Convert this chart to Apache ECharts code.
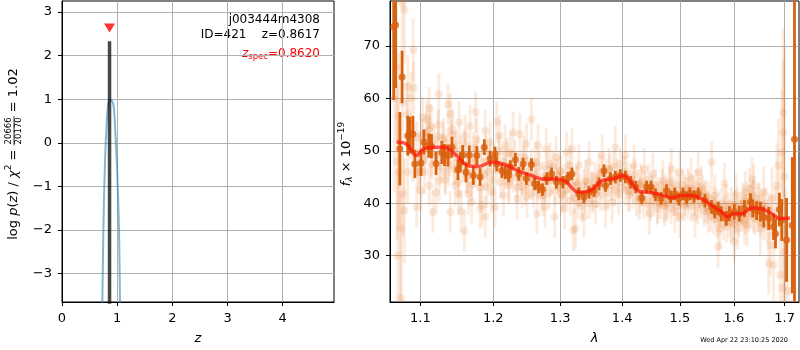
<!DOCTYPE html>
<html>
<head>
<meta charset="utf-8">
<script src="https://cdn.jsdelivr.net/npm/echarts@6/dist/echarts.min.js"></script>
<style>
html, body { margin: 0; padding: 0; background: #fff; }
#chart { width: 800px; height: 350px; }
</style>
</head>
<body>
<div id="chart"></div>
<script>
// ---------- redshift panel ----------
const pzZ   = [0.72, 0.731, 0.745, 0.761, 0.778, 0.792, 0.805, 0.816, 0.83, 0.845, 0.864, 0.89, 0.912, 0.93, 0.943, 0.955, 0.967, 0.98, 0.997, 1.012, 1.027, 1.04, 1.051, 1.06];
const pzLog = [-4.3, -3.65, -2.4, -1.29, -0.5, 0.0, 0.32, 0.6, 0.82, 0.93, 0.98, 0.97, 0.945, 0.87, 0.757, 0.52, 0.227, -0.1, -0.53, -1.08, -1.67, -2.5, -3.65, -4.3];
const zBest = 0.8617;
const zBestTop = 2.33;
const zSpec = 0.8620;
const zSpecMarkY = 2.63;
const zTicks = [0, 1, 2, 3, 4];
const logpTicks = [-3, -2, -1, 0, 1, 2, 3];

const objName = 'j003444m4308';
const objLine = 'ID=421    z=0.8617';
const zSpecText = '=0.8620';
const chiNum = '20666', chiDen = '20170', chiRatio = '1.02';
const stamp = 'Wed Apr 22 23:10:25 2020';

// ---------- spectrum panel ----------
const lamTicks  = [1.1, 1.2, 1.3, 1.4, 1.5, 1.6, 1.7];
const fluxTicks = [30, 40, 50, 60, 70];

// model spectrum
const modelLam  = [1.069,1.0817,1.0947,1.1034,1.119,1.1325,1.146,1.1644,1.1784,1.1974,1.2166,1.2362,1.2561,1.2712,1.2916,1.3072,1.3229,1.3361,1.3522,1.3659,1.3849,1.4016,1.4128,1.4297,1.4470,1.4703,1.4851,1.5029,1.5210,1.5392,1.5578,1.5767,1.5880,1.5986,1.6148,1.6342,1.6538,1.6737,1.6905,1.7107];
const modelFlux = [51.7,51.3,49.1,50.3,50.7,50.7,49.4,47.2,47.0,47.8,47.4,46.2,45.3,44.65,44.65,44.3,42.4,42.1,42.75,44.3,44.65,45.3,44.3,42.25,42.1,41.5,41.05,41.5,41.5,40.9,39.6,38.35,37.4,38.0,38.0,39.1,38.97,38.0,37.1,37.2];

// binned spectrum: [lambda, flux, error]
const binned = [
[1.0654,73.7,14],[1.0678,74.0,12],[1.0733,50.4,7],[1.0761,64.1,5],[1.0834,52.9,3.8],[1.0864,53.0,3.5],[1.0902,53.2,3.5],[1.0927,47.5,2.7],
[1.1008,47.7,2.5],[1.1045,51.7,2.4],[1.1110,51.0,2.3],[1.1146,50.9,2.3],[1.1207,47.6,2.2],[1.1284,49.7,2.2],[1.1321,49.2,2.1],[1.1367,49.1,2.1],
[1.1422,50.7,2.0],[1.1504,46.4,2.0],[1.1537,47.8,1.9],[1.1569,49.2,1.9],[1.1615,45.9,1.9],[1.1661,49.2,1.8],[1.1717,45.3,1.8],[1.1766,49.1,1.8],
[1.1813,45.0,1.7],[1.1872,50.7,1.5],[1.1955,48.5,1.5],[1.2025,49.4,1.4],[1.2050,47.5,1.4],[1.2124,46.2,1.4],[1.2173,45.9,1.3],[1.2223,45.3,1.3],
[1.2248,46.9,1.3],[1.2322,48.3,1.3],[1.2371,45.6,1.3],[1.2436,47.5,1.2],[1.2485,44.7,1.2],[1.2560,47.4,1.2],[1.2608,43.7,1.2],[1.2668,43.1,1.2],
[1.2727,42.6,1.2],[1.2792,44.7,1.2],[1.2866,45.6,1.2],[1.2941,44.0,1.2],[1.3042,44.0,1.2],[1.3120,44.8,1.2],[1.3183,45.6,1.2],[1.3292,41.8,1.2],
[1.3373,41.2,1.2],[1.3454,42.1,1.2],[1.3536,42.4,1.2],[1.3617,43.7,1.2],[1.3698,46.2,1.2],[1.3724,43.4,1.2],[1.3805,44.7,1.2],[1.3886,45.0,1.2],
[1.3968,45.3,1.2],[1.4053,45.0,1.2],[1.4141,44.0,1.2],[1.4228,43.1,1.2],[1.4333,41.0,1.2],[1.4416,43.1,1.2],[1.4491,43.1,1.2],[1.4568,41.6,1.2],
[1.4666,40.9,1.2],[1.4761,42.4,1.2],[1.4835,41.2,1.2],[1.4907,41.8,1.2],[1.4980,40.8,1.2],[1.5055,41.8,1.2],[1.5120,41.0,1.2],[1.5178,41.8,1.2],
[1.5255,41.3,1.2],[1.5331,41.8,1.2],[1.5454,40.5,1.3],[1.5577,39.3,1.3],[1.5638,38.4,1.3],[1.5700,39.0,1.3],[1.5761,38.0,1.4],[1.5853,37.1,1.4],
[1.5914,38.0,1.4],[1.6006,38.4,1.5],[1.6104,38.0,1.5],[1.6202,39.0,1.6],[1.6320,40.2,1.7],[1.6365,39.0,1.7],[1.6440,38.6,1.8],[1.6515,38.4,1.9],
[1.6580,37.4,2.0],[1.6678,37.1,2.2],[1.6776,35.5,2.5],[1.6815,34.2,2.8],[1.6894,38.8,3.2],[1.6941,36.8,4],[1.7039,33.0,8],[1.7156,35.8,13],
[1.7201,52.2,40]
];

// individual exposures: [lambda, flux, error]
const exposuresWide = [
[1.0660,60,18],[1.0690,66,14],[1.0700,48,15],[1.0705,30,16],[1.0720,46,10],
[1.0763,78.2,12],[1.0792,76.9,10],[1.0904,69.3,6],[1.0834,62.3,6],[1.0912,62.0,5],[1.0877,60.1,5],[1.0769,59.2,8],[1.0716,56.7,12],
[1.0825,57.0,6],[1.0741,35.2,14],[1.0790,38.6,10],[1.0777,41.8,8],[1.0834,45.9,6],[1.0748,21.9,20],[1.0951,39.3,4],[1.1008,42.4,4],
[1.0964,45.9,4],[1.1030,56.35,4],[1.1087,56.0,4],[1.1140,54.75,4],[1.1163,38.35,4],[1.1244,60.8,4],[1.1118,58.2,4],[1.1118,43.4,4],
[1.1206,42.1,4],[1.1252,44.3,4],[1.1367,58.9,4],[1.1399,57.0,4],[1.1399,38.35,4],[1.1430,54.1,4],[1.1467,43.4,4],[1.1512,41.8,4],
[1.1549,38.45,4],[1.1594,34.7,4],[1.1649,41.8,4],[1.1694,40.2,4],[1.1749,57.4,4],[1.1813,39.0,4],[1.1672,54.75,4],[1.1521,55.4,4],
[1.1308,52.2,4],[1.1238,52.9,4],[1.1077,53.5,4],[1.1604,52.9,4],[1.1766,52.2,4],[1.1055,45.9,4],[1.1331,45.9,4],[1.1627,45.9,4],
[1.1741,47.8,4],[1.1146,49.1,4],[1.1467,49.7,4],[1.1376,47.2,4],[1.0987,49.7,4],[1.0897,49.1,5],
[1.2560,56.0,4],[1.2050,55.5,4],[1.1886,53.8,4],[1.2091,52.9,4],[1.2289,53.5,4],[1.2388,53.2,4],[1.2487,51.3,4],[1.2660,51.0,4],
[1.2785,50.3,4],[1.2933,48.8,4],[1.3097,49.7,4],[1.1909,43.1,4],[1.1978,42.1,4],[1.2148,41.5,4],[1.2025,39.3,4],[1.2347,40.9,4],
[1.2495,41.2,4],[1.2643,38.0,4],[1.2766,39.3,4],[1.2914,37.4,4],[1.3070,39.0,4],[1.3205,34.85,4],[1.1886,37.4,4],[1.1840,39.6,4],
[1.2223,44.0,4],[1.2421,43.1,4],[1.2570,44.65,4],[1.2742,41.5,4],[1.3016,41.8,4],[1.2248,49.7,4],[1.2446,48.8,4],[1.2620,47.8,4],
[1.2842,47.5,4],[1.2990,46.2,4],[1.3151,47.2,4],[1.1955,51.6,4],[1.2173,51.0,4],
[1.3237,35.2,4],[1.3373,37.4,4],[1.3724,39.3,4],[1.3562,39.9,4],[1.3833,40.2,4],[1.4053,49.1,4],[1.3886,50.7,4],[1.3670,49.1,4],
[1.3454,47.8,4],[1.3292,47.2,4],[1.3183,50.3,4],[1.4200,47.2,4],[1.4375,46.55,4],[1.4521,45.6,4],[1.4697,44.3,4],[1.4288,40.9,4],
[1.4463,38.0,4],[1.4609,40.2,4],[1.4726,39.6,4],[1.3508,42.1,4],[1.3941,41.8,4],[1.3617,45.6,4],[1.3779,46.55,4],[1.3399,44.3,4],
[1.4110,42.4,4],[1.4313,43.7,4],[1.3265,43.4,4],
[1.4995,37.4,4],[1.5083,41.5,4],[1.5201,44.65,4],[1.5331,45.9,4],[1.5577,47.8,4],[1.5454,40.2,4],[1.5730,35.2,4],[1.5699,31.7,4],
[1.6006,32.65,4],[1.6071,35.2,4],[1.6202,36.1,4],[1.6300,42.75,4],[1.4820,44.0,4],[1.4907,38.35,4],[1.4849,46.55,4],[1.5270,37.4,4],
[1.5516,38.35,4],[1.5853,39.6,4],[1.5945,36.4,4],[1.6168,39.9,4],[1.5822,43.7,4],[1.4761,40.5,4],[1.5141,42.75,4],[1.5388,43.1,4],
[1.5638,41.5,4],[1.4995,45.9,4],[1.6039,41.5,4],
[1.6353,44.65,4],[1.6384,43.4,4],[1.6221,42.1,4],[1.6255,35.8,4],[1.6481,39.6,4],[1.6580,42.1,5],[1.6515,35.2,5],[1.6745,40.9,6],
[1.6712,32.0,6],[1.6678,28.5,6],[1.6776,28.2,7],[1.6843,43.4,8],[1.6874,47.2,9],[1.6941,49.7,12],[1.6973,53.5,14],[1.6973,57.3,16],
[1.6908,26.3,10],[1.6960,23.8,12],[1.7006,30.75,12],[1.7071,23.2,14],[1.6384,38.35,4],[1.6810,37.1,6],[1.7000,45,25]
];

const exposuresCore = [
[1.095,52.5,3],[1.098,46.0,3],[1.102,53.0,3],[1.105,48.5,3],[1.108,50.5,3],[1.112,54.0,3],[1.115,47.5,3],[1.118,52.0,3],
[1.121,49.0,3],[1.124,55.0,3],[1.127,47.0,3],[1.130,52.5,3],[1.133,44.5,3],[1.136,51.5,3],[1.139,48.0,3],[1.142,53.0,3],
[1.145,46.5,3],[1.148,51.0,3],[1.151,44.0,3],[1.154,50.0,3],[1.157,47.0,3],[1.160,51.5,3],[1.163,45.0,3],[1.166,48.5,3],
[1.169,43.5,3],[1.172,50.5,3],[1.175,46.0,3],[1.178,49.5,3],[1.181,43.0,3],[1.184,48.0,3],[1.187,45.5,3],[1.190,50.0,3],
[1.193,46.0,3],[1.196,49.0,3],[1.199,44.5,3],[1.202,48.5,3],[1.205,46.5,3],[1.208,50.0,3],[1.211,44.0,3],[1.214,48.0,3],
[1.217,45.5,3],[1.220,49.5,3],[1.223,43.5,3],[1.226,47.0,3],[1.229,45.0,3],[1.232,49.0,3],[1.235,43.0,3],[1.238,46.5,3],
[1.241,44.5,3],[1.244,48.0,3],[1.247,42.5,3],[1.250,46.0,3],[1.253,44.0,3],[1.256,47.5,3],[1.259,42.0,3],[1.262,45.5,3],
[1.265,43.5,3],[1.268,47.0,3],[1.271,41.5,3],[1.274,45.0,3],[1.277,43.0,3],[1.280,46.5,3],[1.283,42.0,3],[1.286,44.5,3],
[1.289,47.0,3],[1.292,42.5,3],[1.295,45.5,3],[1.298,43.0,3],[1.301,46.0,3],[1.304,41.5,3],[1.307,44.5,3],[1.310,42.5,3],
[1.313,45.0,3],[1.316,40.5,3],[1.319,43.5,3],[1.322,41.0,3],[1.325,44.0,3],[1.328,40.0,3],[1.331,42.5,3],[1.334,39.5,3],
[1.337,43.5,3],[1.340,41.0,3],[1.343,44.0,3],[1.346,40.0,3],[1.349,43.0,3],[1.352,41.5,3],[1.355,45.0,3],[1.358,42.0,3],
[1.361,44.5,3],[1.364,41.5,3],[1.367,46.0,3],[1.370,43.0,3],[1.373,45.5,3],[1.376,42.0,3],[1.379,46.5,3],[1.382,43.5,3],
[1.385,47.0,3],[1.388,42.5,3],[1.391,45.5,3],[1.394,44.0,3],[1.397,47.5,3],[1.400,43.0,3],[1.403,46.0,3],[1.406,42.5,3],
[1.409,45.0,3],[1.412,41.5,3],[1.415,44.5,3],[1.418,42.0,3],[1.421,45.5,3],[1.424,40.5,3],[1.427,43.5,3],[1.430,41.0,3],
[1.433,44.0,3],[1.436,40.0,3],[1.439,43.0,3],[1.442,40.5,3],[1.445,44.5,3],[1.448,39.5,3],[1.451,42.5,3],[1.454,40.5,3],
[1.457,43.5,3],[1.460,39.0,3],[1.463,42.0,3],[1.466,40.0,3],[1.469,43.5,3],[1.472,39.5,3],[1.475,42.5,3],[1.478,40.0,3],
[1.481,43.0,3],[1.484,39.0,3],[1.487,42.0,3],[1.490,40.5,3],[1.493,43.5,3],[1.496,39.5,3],[1.499,42.5,3],[1.502,40.0,3],
[1.505,43.5,3],[1.508,39.5,3],[1.511,42.0,3],[1.514,40.0,3],[1.517,43.0,3],[1.520,39.5,3],[1.523,42.5,3],[1.526,40.5,3],
[1.529,43.5,3],[1.532,39.0,3],[1.535,42.0,3],[1.538,40.0,3],[1.541,42.5,3],[1.544,38.5,3],[1.547,41.5,3],[1.550,39.0,3],
[1.553,41.0,3],[1.556,37.5,3],[1.559,40.5,3],[1.562,37.0,3],[1.565,40.0,3],[1.568,36.5,3],[1.571,39.5,3],[1.574,37.0,3],
[1.577,40.0,3],[1.580,36.0,3],[1.583,38.5,3],[1.586,35.5,3],[1.589,39.0,3],[1.592,36.5,3],[1.595,40.0,3],[1.598,36.0,3],
[1.601,39.5,3],[1.604,37.0,3],[1.607,40.0,3],[1.610,36.5,3],[1.613,39.0,3],[1.616,37.5,3],[1.619,40.5,3],[1.622,37.0,3],
[1.625,41.0,3],[1.628,37.5,3],[1.631,40.5,3],[1.634,38.0,3],[1.637,41.5,3],[1.640,37.0,3],[1.643,40.0,3],[1.646,37.5,3],
[1.649,41.0,3],[1.652,36.5,3],[1.655,39.5,3],[1.658,36.0,3],[1.661,40.0,3],[1.664,35.5,3],[1.667,39.0,3],[1.670,36.0,3],
[1.673,38.5,3]
];

// ---------- layout helpers ----------
const FONT = '"DejaVu Sans", sans-serif';
const LAM_MIN = 1.0607, LAM_MAX = 1.7294;
const toLog = l => Math.log(l);

const measureCtx = document.createElement('canvas').getContext('2d');
function widthOf(str, size, style) {
  measureCtx.font = (style || 'normal') + ' ' + size + 'px ' + FONT;
  return measureCtx.measureText(str).width;
}

// a vertical axis title built from pieces, centred on (cx, cy), reading bottom to top
function rotatedTitle(cx, cy, pieces) {
  let x = 0;
  const kids = [];
  pieces.forEach(p => {
    if (p.frac) {
      const w = Math.max(widthOf(p.frac[0], p.size), widthOf(p.frac[1], p.size)) + 2;
      [[p.frac[0], -p.gap], [p.frac[1], p.gap]].forEach(([t, dy]) => kids.push({
        type: 'text', x: x + w / 2, y: dy,
        style: { text: t, fontSize: p.size, fontFamily: FONT, fill: '#000', align: 'center', verticalAlign: 'middle' }
      }));
      kids.push({ type: 'line', shape: { x1: x, y1: 0, x2: x + w, y2: 0 }, style: { stroke: '#000', lineWidth: 0.8 } });
      x += w;
    } else {
      kids.push({
        type: 'text', x: x, y: p.dy || 0,
        style: { text: p.t, fontSize: p.size, fontStyle: p.style || 'normal', fontFamily: FONT, fill: '#000', align: 'left', verticalAlign: 'middle' }
      });
      x += widthOf(p.t, p.size, p.style);
    }
  });
  return { type: 'group', x: cx, y: cy + x / 2, rotation: Math.PI / 2, children: kids, silent: true };
}

// a horizontal run of pieces whose right end sits at (rx, cy)
function rightAlignedRun(rx, cy, color, pieces) {
  const total = pieces.reduce((s, p) => s + widthOf(p.t, p.size, p.style), 0);
  let x = rx - total;
  return pieces.map(p => {
    const el = { type: 'text', x: x, y: cy + (p.dy || 0), silent: true,
      style: { text: p.t, fontSize: p.size, fontStyle: p.style || 'normal', fontFamily: FONT, fill: color, align: 'left', verticalAlign: 'middle' } };
    x += widthOf(p.t, p.size, p.style);
    return el;
  });
}

function errorBars(points, color, width, z) {
  return {
    type: 'custom', xAxisIndex: 1, yAxisIndex: 1, z: z, clip: true, silent: true,
    encode: { x: 0, y: 1 },
    data: points.map(p => [toLog(p[0]), p[1], p[2]]),
    renderItem: function (params, api) {
      const x = api.value(0), y = api.value(1), e = api.value(2);
      const lo = api.coord([x, y - e]);
      const hi = api.coord([x, y + e]);
      return { type: 'line', shape: { x1: lo[0], y1: lo[1], x2: hi[0], y2: hi[1] },
               style: { stroke: color, lineWidth: width } };
    }
  };
}

const minusFmt = v => (v < 0 ? '\u2212' + Math.abs(v) : String(v));
const axisCommon = {
  axisLine: { show: true, onZero: false, lineStyle: { color: '#000', width: 1 } },
  axisTick: { show: true, length: 4, lineStyle: { color: '#000', width: 1 } },
  splitLine: { show: true, lineStyle: { color: '#b0b0b0', width: 1 } }
};
const labelStyle = { color: '#000', fontSize: 13, fontFamily: FONT };

const exposures = exposuresWide.concat(exposuresCore);
const lightColor = 'rgba(232,125,50,0.15)';
const darkColor = '#d9620f';

const chart = echarts.init(document.getElementById('chart'), null, { renderer: 'canvas' });
chart.setOption({
  animation: false,
  backgroundColor: '#fff',
  grid: [
    { left: 62, top: 1, width: 272, height: 303, show: true, borderColor: '#000', borderWidth: 1, backgroundColor: 'transparent' },
    { left: 390, top: 1, width: 409, height: 303, show: true, borderColor: '#000', borderWidth: 1, backgroundColor: 'transparent' }
  ],
  xAxis: [
    Object.assign({}, axisCommon, {
      type: 'value', gridIndex: 0, min: 0, max: 4.93,
      axisTick: Object.assign({}, axisCommon.axisTick, { customValues: zTicks }),
      axisLabel: Object.assign({}, labelStyle, { customValues: zTicks, margin: 10 }),
      name: 'z', nameLocation: 'middle', nameGap: 30,
      nameTextStyle: { color: '#000', fontSize: 13, fontStyle: 'italic', fontFamily: FONT }
    }),
    Object.assign({}, axisCommon, {
      type: 'value', gridIndex: 1, min: toLog(LAM_MIN), max: toLog(LAM_MAX),
      axisTick: Object.assign({}, axisCommon.axisTick, { customValues: lamTicks.map(toLog) }),
      axisLabel: Object.assign({}, labelStyle, { customValues: lamTicks.map(toLog), margin: 10,
        formatter: v => Math.exp(v).toFixed(1) }),
      name: 'λ', nameLocation: 'middle', nameGap: 30,
      nameTextStyle: { color: '#000', fontSize: 13, fontStyle: 'italic', fontFamily: FONT }
    })
  ],
  yAxis: [
    Object.assign({}, axisCommon, {
      type: 'value', gridIndex: 0, min: -3.65, max: 3.25,
      axisTick: Object.assign({}, axisCommon.axisTick, { customValues: logpTicks }),
      axisLabel: Object.assign({}, labelStyle, { customValues: logpTicks, margin: 10, formatter: minusFmt })
    }),
    Object.assign({}, axisCommon, {
      type: 'value', gridIndex: 1, min: 21.15, max: 78.6,
      axisTick: Object.assign({}, axisCommon.axisTick, { customValues: fluxTicks }),
      axisLabel: Object.assign({}, labelStyle, { customValues: fluxTicks, margin: 10 })
    })
  ],
  series: [
    {
      type: 'line', xAxisIndex: 0, yAxisIndex: 0, showSymbol: false, smooth: 0.3, clip: true, silent: true,
      data: pzZ.map((z, i) => [z, pzLog[i]]),
      lineStyle: { color: 'rgba(31,119,180,0.55)', width: 2 }, z: 3
    },
    {
      type: 'line', xAxisIndex: 0, yAxisIndex: 0, showSymbol: false, clip: true, silent: true,
      data: [[zBest, -5], [zBest, zBestTop]],
      lineStyle: { color: 'rgba(0,0,0,0.72)', width: 3.5 }, z: 4
    },
    {
      type: 'scatter', xAxisIndex: 0, yAxisIndex: 0, silent: true,
      data: [[zSpec, zSpecMarkY]], symbol: 'triangle', symbolRotate: 180, symbolSize: [11, 9],
      itemStyle: { color: '#ff0000' }, z: 5
    },
    errorBars(exposures, lightColor, 3, 2),
    {
      type: 'scatter', xAxisIndex: 1, yAxisIndex: 1, silent: true, clip: true,
      data: exposures.map(p => [toLog(p[0]), p[1]]),
      symbolSize: 8, itemStyle: { color: 'rgba(232,125,50,0.2)' }, z: 3
    },
    errorBars(binned, darkColor, 2.8, 4),
    {
      type: 'scatter', xAxisIndex: 1, yAxisIndex: 1, silent: true, clip: true,
      data: binned.map(p => [toLog(p[0]), p[1]]),
      symbolSize: 7, itemStyle: { color: darkColor }, z: 5
    },
    {
      type: 'line', xAxisIndex: 1, yAxisIndex: 1, showSymbol: false, smooth: 0.35, clip: true, silent: true,
      data: modelLam.map((l, i) => [toLog(l), modelFlux[i]]),
      lineStyle: { color: 'rgba(255,20,10,0.72)', width: 3.5 }, z: 6
    }
  ],
  graphic: [
    { type: 'text', x: 320, y: 20, silent: true,
      style: { text: objName, fontSize: 12, fontFamily: FONT, fill: '#000', align: 'right', verticalAlign: 'middle' } },
    { type: 'text', x: 320, y: 35, silent: true,
      style: { text: objLine, fontSize: 12, fontFamily: FONT, fill: '#000', align: 'right', verticalAlign: 'middle' } },
    ...rightAlignedRun(320, 54, '#ff0000', [
      { t: 'z', size: 12, style: 'italic' },
      { t: 'spec', size: 8.5, dy: 3 },
      { t: zSpecText, size: 12 }
    ]),
    rotatedTitle(14, 154, [
      { t: 'log ', size: 13 }, { t: 'p', size: 13, style: 'italic' }, { t: '(', size: 13 },
      { t: 'z', size: 13, style: 'italic' }, { t: ') / ', size: 13 }, { t: 'χ', size: 13, style: 'italic' },
      { t: '2', size: 9, dy: -5 }, { t: ' = ', size: 13 },
      { frac: [chiNum, chiDen], size: 8.5, gap: 5 },
      { t: ' = ' + chiRatio, size: 13 }
    ]),
    rotatedTitle(347, 154, [
      { t: 'f', size: 13, style: 'italic' }, { t: 'λ', size: 9, style: 'italic', dy: 3 },
      { t: ' × 10', size: 13 }, { t: '\u221219', size: 9, dy: -5 }
    ]),
    { type: 'text', x: 788, y: 340, silent: true,
      style: { text: stamp, fontSize: 6.5, fontFamily: FONT, fill: '#000', align: 'right', verticalAlign: 'middle' } }
  ]
});
</script>
</body>
</html>
